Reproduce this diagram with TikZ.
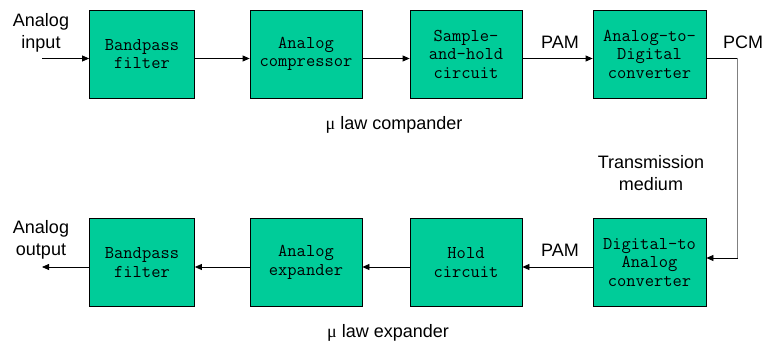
\documentclass[tikz,border=0pt]{standalone}
\usepackage{fontspec}
\setmainfont{Liberation Sans}
\newfontfamily\greekfont{Liberation Serif}
\usepackage{xcolor}
\usetikzlibrary{arrows.meta}
\definecolor{boxgreen}{RGB}{0,204,153}
\definecolor{linegray}{RGB}{128,128,128}
\tikzset{
  blk/.style={rectangle, draw=black, line width=0.8pt, fill=boxgreen, minimum width=112pt, minimum height=88pt, inner sep=0pt, align=center, font={\ttfamily\fontsize{18}{18.5}\selectfont}},
  lbl/.style={align=center, inner sep=0pt, font={\fontsize{18}{22}\selectfont}},
  sig/.style={line width=0.8pt, -{Triangle[length=7pt,width=6pt]}},
  wire/.style={line width=0.8pt}
}

\begin{document}
\begin{tikzpicture}[x=1pt,y=-1pt]
  \useasboundingbox (0,0) rectangle (764,342);
  % compander row
  \node[blk, minimum width=105pt] (bpf1) at (142,54) {Bandpass\\filter};
  \node[blk] (comp) at (306,54) {Analog\\compressor};
  \node[blk] (sh) at (466,54) {Sample-\\and-hold\\circuit};
  \node[blk, minimum width=113pt] (adc) at (649.5,54) {Analog-to-\\Digital\\converter};
  \coordinate (in) at (42,58.5);
  \draw[sig] (in) -- (in -| bpf1.west);
  \draw[sig] ([yshift=-4.5pt]bpf1.east) -- ([yshift=-4.5pt]comp.west);
  \draw[sig] ([yshift=-4.5pt]comp.east) -- ([yshift=-4.5pt]sh.west);
  \draw[sig] ([yshift=-4.5pt]sh.east) -- ([yshift=-4.5pt]adc.west);
  \node[lbl] (ain) at (41,33) {Analog\\input};
  \node[lbl] (pam1) at (560,42) {PAM};
  \node[lbl] (pcm) at (743,42) {PCM};
  \node[lbl] (comptxt) at (394,125) {{\greekfont μ} law compander};

  % transmission medium
  \coordinate (c1) at (737.5,58.5);
  \coordinate (c2) at (737.5,258);
  \node[lbl] (tm) at (651,173) {Transmission\\medium};

  % expander row
  \node[blk, minimum width=105pt] (bpf2) at (142,262.5) {Bandpass\\filter};
  \node[blk] (exp) at (306,262.5) {Analog\\expander};
  \node[blk] (hold) at (466,262.5) {Hold\\circuit};
  \node[blk, minimum width=113pt] (dac) at (649.5,262.5) {Digital-to\\Analog\\converter};
  \draw[wire] (adc.east |- c1) -- (c1);
  \draw[wire, linegray] (c1) -- (c2);
  \draw[sig] (c2) -- (c2 -| dac.east);
  \draw[sig] ([yshift=-4.5pt]dac.west) -- ([yshift=-4.5pt]hold.east);
  \draw[sig] ([yshift=-4.5pt]hold.west) -- ([yshift=-4.5pt]exp.east);
  \draw[sig] ([yshift=-4.5pt]exp.west) -- ([yshift=-4.5pt]bpf2.east);
  \coordinate (out) at (42,267);
  \draw[sig] (out -| bpf2.west) -- (out);
  \node[lbl] (aout) at (41,240) {Analog\\output};
  \node[lbl] (pam2) at (560,250) {PAM};
  \node[lbl] (exptxt) at (388,333) {{\greekfont μ} law expander};
\end{tikzpicture}
\end{document}
